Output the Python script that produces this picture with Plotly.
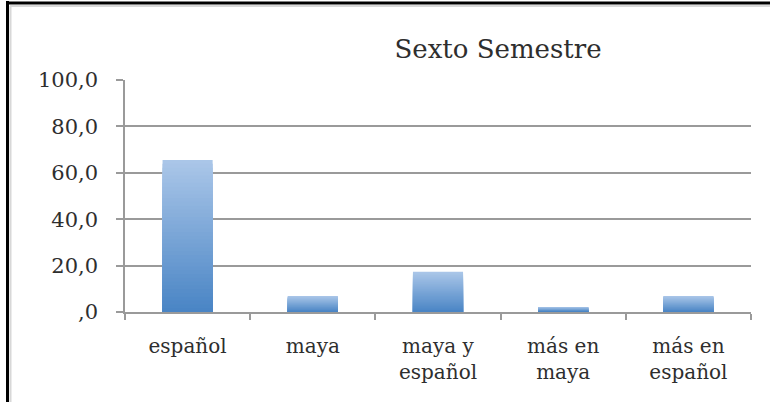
import plotly.graph_objects as go

categories = ["español", "maya", "maya y<br>español", "más en<br>maya", "más en<br>español"]
values = [65.5, 6.9, 17.4, 2.2, 6.9]
y_ticks = [0, 20, 40, 60, 80, 100]
y_tick_labels = [",0", "20,0", "40,0", "60,0", "80,0", "100,0"]
title_text = "Sexto Semestre"

FONT = "DejaVu Serif"
TOP_RGB = (170, 198, 232)
BOT_RGB = (74, 133, 197)
N_LAYERS = 40

fig = go.Figure()
for k in range(N_LAYERS):
    frac = 1 - k / N_LAYERS
    t = k / (N_LAYERS - 1)
    c = tuple(round(TOP_RGB[i] + (BOT_RGB[i] - TOP_RGB[i]) * t) for i in range(3))
    fig.add_trace(go.Bar(
        x=categories,
        y=[v * frac for v in values],
        width=0.4,
        marker=dict(color=f"rgb{c}", line=dict(width=0)),
        showlegend=False,
        hoverinfo="skip" if k else "y",
    ))

L, R, T, B = 125, 19, 80, 90
W, H = 770, 402
pw = W - L - R
ph = H - T - B

def px_x(p):
    return (p - L) / pw

def px_y(p):
    return (H - B - p) / ph

TXT = "#2e2e2e"

fig.update_layout(
    width=W, height=H,
    margin=dict(l=L, r=R, t=T, b=B, pad=0),
    barmode="overlay",
    bargap=0.6,
    paper_bgcolor="white",
    plot_bgcolor="white",
    font=dict(family=FONT, color=TXT),
    title=dict(
        text=title_text,
        font=dict(family=FONT, size=26, color=TXT),
        xref="paper", x=px_x(498), xanchor="center",
        yref="container", y=1 - 49 / H, yanchor="middle",
    ),
    xaxis=dict(
        showline=True, linecolor="#9a9a9a", linewidth=1.5,
        ticks="outside", tickson="boundaries", ticklen=6, tickcolor="#9a9a9a", tickwidth=1.5,
        tickfont=dict(family=FONT, size=20, color=TXT),
        ticklabelstandoff=15,
        showgrid=False,
    ),
    yaxis=dict(
        range=[0, 100],
        tickvals=y_ticks, ticktext=y_tick_labels,
        showline=True, linecolor="#9a9a9a", linewidth=1.5,
        ticks="outside", ticklen=7, tickcolor="#9a9a9a", tickwidth=1.5,
        showgrid=True, gridcolor="#9a9a9a", gridwidth=1.5,
        zeroline=False,
        tickfont=dict(family=FONT, size=21, color=TXT),
        ticklabelstandoff=14,
    ),
    shapes=[
        dict(type="line", xref="paper", yref="paper",
             x0=px_x(7.5), x1=px_x(7.5), y0=px_y(1), y1=px_y(H + 5),
             line=dict(color="black", width=3)),
        dict(type="line", xref="paper", yref="paper",
             x0=px_x(6), x1=px_x(W + 5), y0=px_y(3), y1=px_y(3),
             line=dict(color="black", width=3)),
        dict(type="line", xref="paper", yref="paper",
             x0=px_x(10.5), x1=px_x(10.5), y0=px_y(6), y1=px_y(H + 5),
             line=dict(color="#d8d8d8", width=2)),
        dict(type="line", xref="paper", yref="paper",
             x0=px_x(10), x1=px_x(W + 5), y0=px_y(6), y1=px_y(6),
             line=dict(color="#d8d8d8", width=2)),
    ],
)

fig.write_html(
    "out.html",
    config={"displayModeBar": False},
    post_script="document.body.style.margin='0';document.body.style.overflow='hidden';",
)
